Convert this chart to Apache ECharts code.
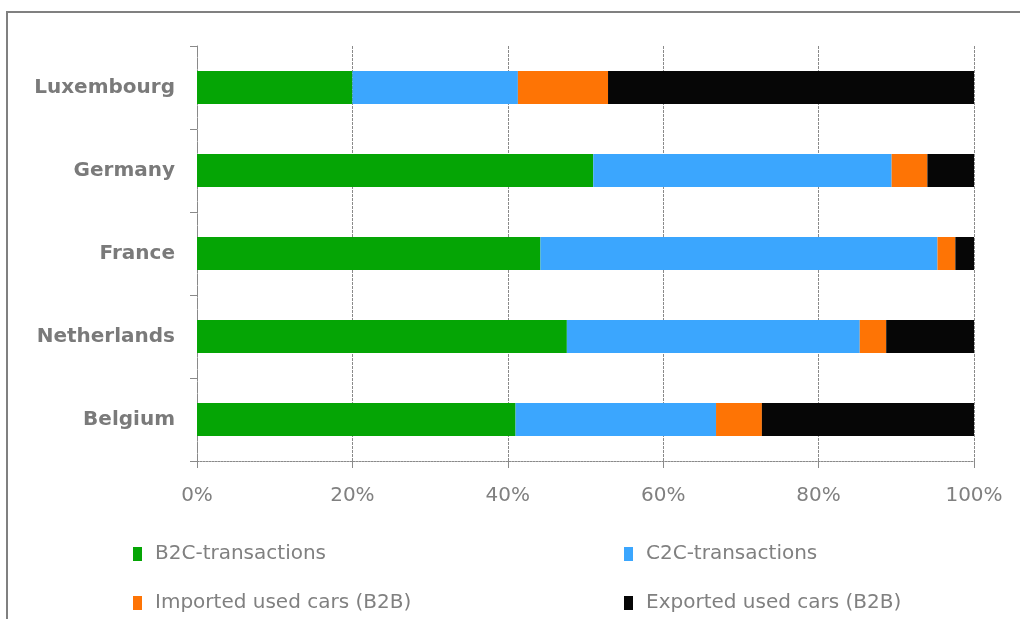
<!DOCTYPE html>
<html>
<head>
<meta charset="utf-8">
<script src="https://cdn.jsdelivr.net/npm/echarts@6/dist/echarts.min.js"></script>
<style>
  html, body { margin: 0; padding: 0; background: #ffffff; }
  #chart { width: 1020px; height: 619px; }
</style>
</head>
<body>
<div id="chart"></div>
<script>
// Used-car transaction structure per country (share of total, %)
const countries = ['Luxembourg', 'Germany', 'France', 'Netherlands', 'Belgium'];
const b2c      = [20.0, 51.0, 44.2, 47.6, 41.0];
const c2c      = [21.3, 38.4, 51.1, 37.7, 25.8];
const imported = [11.6, 4.6, 2.3, 3.4, 5.9];
const exported = [47.1, 6.0, 2.4, 11.3, 27.3];
const xTicks = [0, 20, 40, 60, 80, 100];

const seriesNames = ['B2C-transactions', 'C2C-transactions', 'Imported used cars (B2B)', 'Exported used cars (B2B)'];
const seriesColors = ['#05a505', '#3ba6fe', '#fe7405', '#060606'];
const seriesData = [b2c, c2c, imported, exported];

const FONT = '"DejaVu Sans", Verdana, sans-serif';
const GREY = '#808080';
const LINE = '#8a8a8a';

// legend slots: two columns, two rows
const legendLeft = [128, 619, 128, 619];
const legendTop  = [539, 539, 588, 588];

const chart = echarts.init(document.getElementById('chart'), null, { renderer: 'canvas' });

chart.setOption({
  backgroundColor: '#ffffff',
  animation: false,
  graphic: [{
    type: 'rect',
    shape: { x: 7, y: 12, width: 1100, height: 700 },
    style: { fill: 'none', stroke: GREY, lineWidth: 2 },
    silent: true
  }],
  grid: { left: 197, right: 46, top: 46, bottom: 158, containLabel: false },
  legend: seriesNames.map((name, i) => ({
    left: legendLeft[i], top: legendTop[i],
    itemWidth: 9, itemHeight: 14, icon: 'rect',
    data: [name],
    textStyle: { color: GREY, fontFamily: FONT, fontSize: 20, padding: [0, 0, 0, 8] }
  })),
  xAxis: {
    type: 'value',
    min: xTicks[0],
    max: xTicks[xTicks.length - 1],
    interval: 20,
    axisLine: { show: true, lineStyle: { color: LINE, width: 1, type: [2, 1] } },
    axisTick: { show: true, length: 7, lineStyle: { color: LINE } },
    axisLabel: {
      color: GREY, fontFamily: FONT, fontSize: 20, margin: 25,
      formatter: v => v + '%'
    },
    splitLine: { show: true, lineStyle: { color: LINE, width: 1, type: [3, 1] } }
  },
  yAxis: {
    type: 'category',
    data: countries,
    inverse: true,
    axisLine: { show: true, lineStyle: { color: LINE, width: 1, type: [2, 1] } },
    axisTick: { show: true, length: 7, alignWithLabel: false, lineStyle: { color: LINE } },
    axisLabel: {
      color: '#7a7a7a', fontFamily: FONT, fontSize: 20, fontWeight: 'bold', margin: 22
    },
    splitLine: { show: false }
  },
  series: seriesNames.map((name, i) => ({
    name: name,
    type: 'bar',
    stack: 'total',
    barWidth: 33,
    itemStyle: { color: seriesColors[i] },
    data: seriesData[i]
  }))
});
</script>
</body>
</html>
